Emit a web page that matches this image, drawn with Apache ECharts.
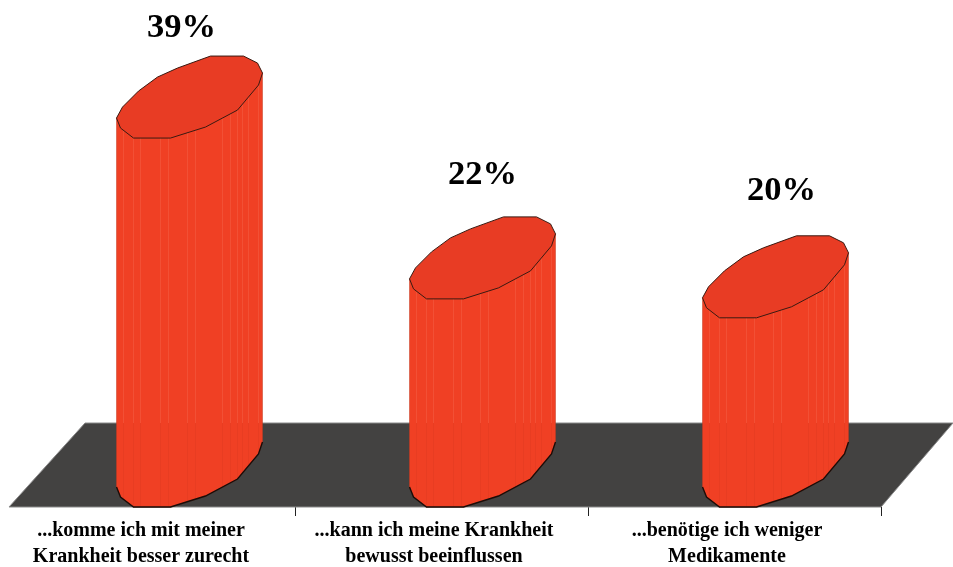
<!DOCTYPE html>
<html>
<head>
<meta charset="utf-8">
<style>
  html, body { margin: 0; background: #fff; }
  #main { width: 953px; height: 567px; }
</style>
<script src="https://cdn.jsdelivr.net/npm/echarts@6/dist/echarts.min.js"></script>
</head>
<body>
<div id="main"></div>
<script>
const categories = [
  '...komme ich mit meiner\nKrankheit besser zurecht',
  '...kann ich meine Krankheit\nbewusst beeinflussen',
  '...benötige ich weniger\nMedikamente'
]
const percentValues = [39, 22, 20]

// how far each % label sits from its bar top, in px
const labelNudge = [[-8, -110], [0, -124], [6, -127]]

// bar cross section in px, relative to the front lowest point of the bar
const lowerEdge = [[-73, -20], [-69, -10], [-56, 0], [-19, 0], [16, -11], [48, -28], [69, -53], [73, -65]]
const upperEdge = [[68, -75], [54, -82], [21, -82], [-12, -70], [-32, -61], [-51, -47], [-67, -31]]
const facets = [-66, -56, -49, -29, -21, -2, 6, 33, 41, 48, 53, 59, 69]
const DEPTH_SHIFT = 41
const FLOOR_DX_BACK_L = 83
const FLOOR_DX_BACK_R = 72
const FLOOR_DEPTH = 84
const FLOOR_INSET = 7

function edgeY(x) {
  for (let i = 0; i < lowerEdge.length - 1; i++) {
    const a = lowerEdge[i], b = lowerEdge[i + 1]
    if (x >= a[0] && x <= b[0]) return a[1] + (b[1] - a[1]) * (x - a[0]) / (b[0] - a[0])
  }
  return 0
}

function renderFloor(params) {
  const g = params.coordSys
  const front = g.y + g.height
  return {
    type: 'polygon',
    shape: { points: [
      [g.x + FLOOR_INSET, front],
      [g.x + g.width, front],
      [g.x + g.width + FLOOR_DX_BACK_R, front - FLOOR_DEPTH],
      [g.x + FLOOR_DX_BACK_L, front - FLOOR_DEPTH]
    ] },
    style: { fill: '#434241', stroke: '#8a8a8a', lineWidth: 1 }
  }
}

function renderBar(params, api) {
  const idx = api.value(0)
  const val = api.value(1)
  const topPt = api.coord([idx, val])
  const basePt = api.coord([idx, 0])
  const cx = topPt[0] + DEPTH_SHIFT
  const topY = topPt[1]
  const baseY = basePt[1]
  const floorBack = baseY - FLOOR_DEPTH
  const at = (p, y) => [cx + p[0], y + p[1]]

  const right = lowerEdge[lowerEdge.length - 1]
  const left = lowerEdge[0]
  const bottom = lowerEdge.map(p => at(p, baseY))
  const body = [at(left, topY), at(right, topY)].concat(bottom.slice().reverse())

  const children = [{
    type: 'polygon',
    shape: { points: body },
    style: { fill: '#f04024', stroke: '#c23a20', lineWidth: 0.5 }
  }]

  facets.forEach(fx => {
    const off = edgeY(fx)
    children.push({
      type: 'line',
      shape: { x1: cx + fx, y1: topY + off, x2: cx + fx, y2: floorBack },
      style: { stroke: '#f7765c', lineWidth: 1, opacity: 0.3 }
    })
    children.push({
      type: 'line',
      shape: { x1: cx + fx, y1: floorBack, x2: cx + fx, y2: baseY + off },
      style: { stroke: '#d8391f', lineWidth: 1, opacity: 0.3 }
    })
  })

  children.push({
    type: 'polyline',
    shape: { points: bottom },
    style: { fill: 'none', stroke: '#1a0c08', lineWidth: 1.4 }
  })
  children.push({
    type: 'polygon',
    shape: { points: lowerEdge.concat(upperEdge).map(p => at(p, topY)) },
    style: { fill: '#e83c24', stroke: '#3a1a12', lineWidth: 1 }
  })
  children.push({
    type: 'text',
    style: {
      x: cx + labelNudge[idx][0],
      y: topY + labelNudge[idx][1],
      text: val + '%',
      align: 'center',
      verticalAlign: 'middle',
      font: 'bold 34.5px "Liberation Serif"',
      fill: '#000'
    }
  })
  return { type: 'group', children }
}

const myChart = echarts.init(document.getElementById('main'), null, { renderer: 'canvas' })
myChart.setOption({
  animation: false,
  backgroundColor: '#fff',
  grid: { left: 2, top: 34, width: 879, height: 473, outerBoundsMode: 'none' },
  xAxis: {
    type: 'category',
    data: categories,
    axisLine: { show: false },
    axisTick: {
      show: true,
      length: 9,
      lineStyle: { color: '#222', width: 1 },
      interval: i => i > 0
    },
    axisLabel: {
      interval: 0,
      margin: 11,
      padding: [0, 15, 0, 0],
      fontFamily: 'Liberation Serif',
      fontWeight: 'bold',
      fontSize: 20,
      lineHeight: 26,
      color: '#000'
    }
  },
  yAxis: { type: 'value', min: 0, max: 50, show: false },
  series: [
    { type: 'custom', z: 1, silent: true, data: [0], renderItem: renderFloor },
    {
      type: 'custom',
      z: 2,
      silent: true,
      encode: { x: 0, y: 1 },
      data: percentValues.map((v, i) => [i, v]),
      renderItem: renderBar
    }
  ]
})
</script>
</body>
</html>
